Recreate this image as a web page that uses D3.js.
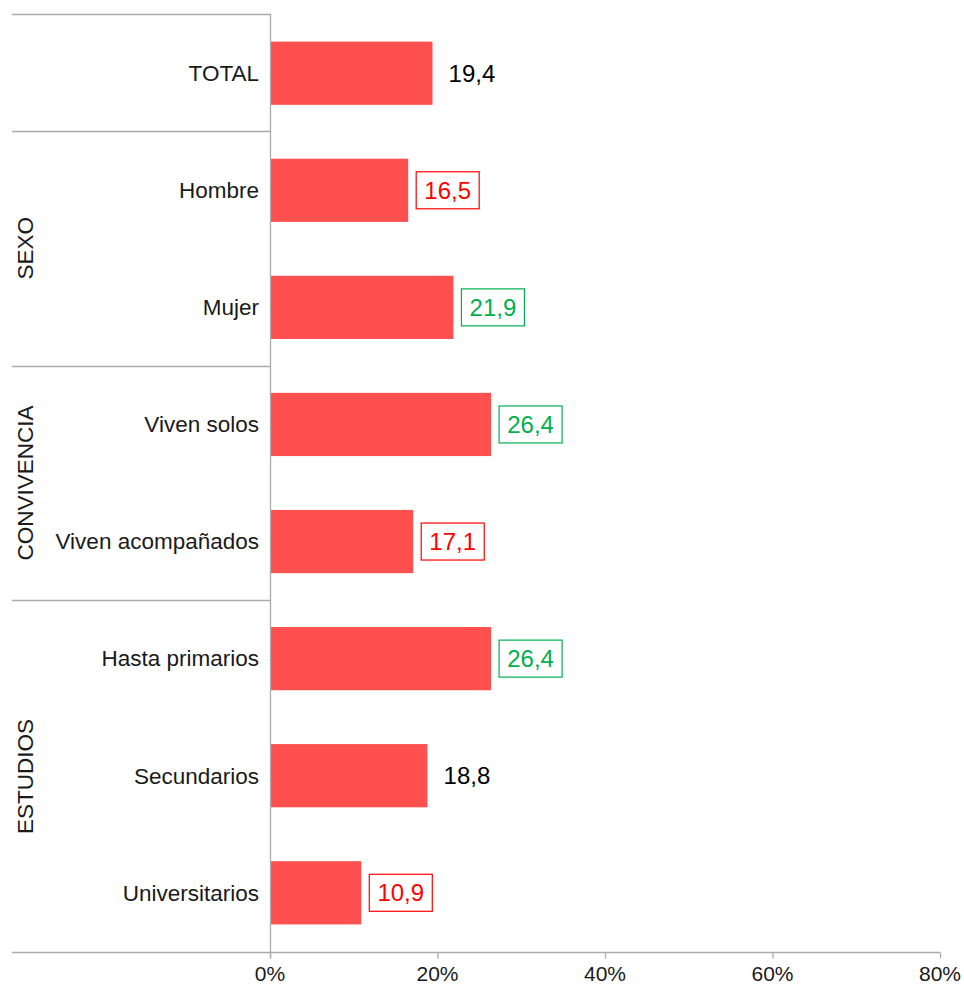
<!DOCTYPE html>
<html>
<head>
<meta charset="utf-8">
<script src="https://cdn.jsdelivr.net/npm/d3@7/dist/d3.min.js"></script>
<style>
  html, body { margin: 0; padding: 0; background: #fff; }
  svg { display: block; font-family: "Liberation Sans", Arial, sans-serif; }
</style>
</head>
<body>
<svg id="chart" width="964" height="986"></svg>
<script>
// Categories, top to bottom
const categories = ["TOTAL", "Hombre", "Mujer", "Viven solos", "Viven acompañados",
                    "Hasta primarios", "Secundarios", "Universitarios"];
// Percentages
const values = [19.4, 16.5, 21.9, 26.4, 17.1, 26.4, 18.8, 10.9];
// Label status: "n" neutral, "lo" significantly lower, "hi" significantly higher
const status = ["n", "lo", "hi", "hi", "lo", "hi", "n", "lo"];
// Groups of categories (first index, last index)
const groups = [
  { name: "", from: 0, to: 0 },
  { name: "SEXO", from: 1, to: 2 },
  { name: "CONVIVENCIA", from: 3, to: 4 },
  { name: "ESTUDIOS", from: 5, to: 7 }
];
const xTicks = [0, 20, 40, 60, 80];

(function draw() {
  const svg = d3.select("#chart");
  const mLeft = 270, mRight = 940, mTop = 13.5, mBottom = 952.5, outerLeft = 12;
  const gridColor = "#ababab";
  const textColor = "#1a1a1a";
  const barColor = "#ff5050";
  const statusColor = { n: "#000000", lo: "#ff0000", hi: "#00b050" };

  const x = d3.scaleLinear().domain([0, 80]).range([mLeft, mRight]);
  const y = d3.scaleBand().domain(categories).range([mTop, mBottom])
    .paddingInner(0.46).paddingOuter(0.24);
  const step = (mBottom - mTop) / categories.length;
  const bandTop = i => mTop + i * step;

  // Bars
  svg.append("g").selectAll("rect")
    .data(values)
    .join("rect")
    .attr("x", x(0))
    .attr("y", (d, i) => y(categories[i]))
    .attr("width", d => x(d) - x(0))
    .attr("height", y.bandwidth())
    .attr("fill", barColor);

  // Group separator lines on the category side
  const sepY = [bandTop(0)].concat(groups.map(g => bandTop(g.to + 1)));
  svg.append("g").selectAll("line")
    .data(sepY.slice(0, -1))
    .join("line")
    .attr("x1", outerLeft).attr("x2", mLeft)
    .attr("y1", d => Math.round(d) + 0.5).attr("y2", d => Math.round(d) + 0.5)
    .attr("stroke", gridColor).attr("stroke-width", 1.3);

  // Vertical category axis line
  svg.append("line")
    .attr("x1", mLeft + 0.5).attr("x2", mLeft + 0.5)
    .attr("y1", mTop).attr("y2", mBottom + 6)
    .attr("stroke", gridColor).attr("stroke-width", 1.3);

  // Bottom axis line and ticks
  svg.append("line")
    .attr("x1", outerLeft).attr("x2", mRight)
    .attr("y1", mBottom).attr("y2", mBottom)
    .attr("stroke", gridColor).attr("stroke-width", 1.3);
  const xAxis = svg.append("g");
  xAxis.selectAll("line")
    .data(xTicks)
    .join("line")
    .attr("x1", d => x(d) + 0.5).attr("x2", d => x(d) + 0.5)
    .attr("y1", mBottom).attr("y2", mBottom + 6)
    .attr("stroke", gridColor).attr("stroke-width", 1.3);
  xAxis.selectAll("text")
    .data(xTicks)
    .join("text")
    .attr("x", d => x(d))
    .attr("y", 981)
    .attr("text-anchor", "middle")
    .attr("font-size", 21)
    .attr("fill", textColor)
    .text(d => d + "%");

  // Category labels
  svg.append("g").selectAll("text")
    .data(categories)
    .join("text")
    .attr("x", mLeft - 11)
    .attr("y", d => y(d) + y.bandwidth() / 2)
    .attr("dy", "0.35em")
    .attr("text-anchor", "end")
    .attr("font-size", 22.5)
    .attr("fill", textColor)
    .text(d => d);

  // Group labels, rotated
  svg.append("g").selectAll("text")
    .data(groups.filter(g => g.name))
    .join("text")
    .attr("transform", g => {
      const cy = (bandTop(g.from) + bandTop(g.to + 1)) / 2;
      return `translate(25,${cy}) rotate(-90)`;
    })
    .attr("dy", "0.35em")
    .attr("text-anchor", "middle")
    .attr("font-size", 22.5)
    .attr("fill", textColor)
    .text(g => g.name);

  // Value labels, boxed when significantly different
  const fmt = v => d3.format(".1f")(v).replace(".", ",");
  const labels = svg.append("g").selectAll("g")
    .data(values.map((v, i) => ({ v, s: status[i], c: categories[i] })))
    .join("g")
    .attr("transform", d => `translate(${x(d.v) + 39.5},${y(d.c) + y.bandwidth() / 2})`);
  labels.filter(d => d.s !== "n")
    .append("rect")
    .attr("x", -31.5).attr("y", -18.5)
    .attr("width", 63).attr("height", 37)
    .attr("fill", "#fff")
    .attr("stroke", d => statusColor[d.s])
    .attr("stroke-width", 1.2);
  labels.append("text")
    .attr("text-anchor", "middle")
    .attr("dy", "0.36em")
    .attr("font-size", 24)
    .attr("fill", d => statusColor[d.s])
    .text(d => fmt(d.v));
})();
</script>
</body>
</html>
